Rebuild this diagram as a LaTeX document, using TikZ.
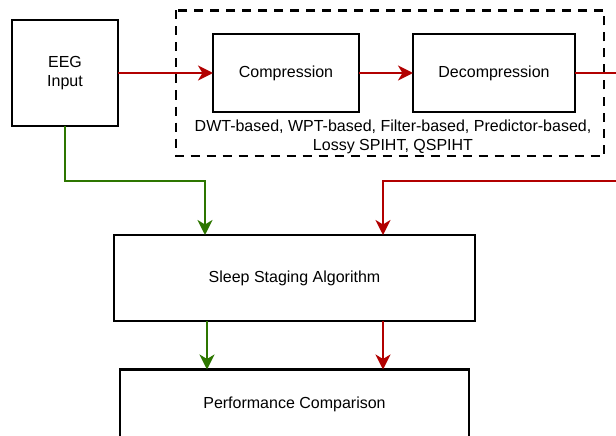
\documentclass[tikz,border=0pt]{standalone}
\usepackage{fontspec}
\setmainfont{Liberation Sans}
\usetikzlibrary{arrows.meta}
\definecolor{dred}{HTML}{B20000}
\definecolor{dgreen}{HTML}{2D7600}
\tikzset{
  blk/.style={draw=black, line width=2.4pt, fill=white, inner sep=0pt, outer sep=0pt, align=center,
    font=\fontsize{16}{19}\selectfont},
  conn/.style={line width=2.4pt, -{Stealth[length=15pt, width=15pt, inset=4.5pt]}},
  redc/.style={conn, draw=dred, color=dred},
  greenc/.style={conn, draw=dgreen, color=dgreen},
  dashbox/.style={draw=black, line width=2.4pt, dash pattern=on 9pt off 7pt},
}
\begin{document}
\begin{tikzpicture}[x=1pt, y=-1pt]
\useasboundingbox (0,0) rectangle (616,436);
\clip (0,0) rectangle (616,436);
% dashed group
\draw[dashbox] (176,10.5) rectangle (604,156);
\node[blk, minimum width=106pt, minimum height=106pt] (eeg) at (65,73) {EEG\\Input};
\node[blk, minimum width=146pt, minimum height=78pt] (comp) at (286,73) {Compression};
\node[blk, minimum width=162pt, minimum height=78pt] (dec) at (494,73) {Decompression};
\node[align=center, font=\fontsize{16}{19}\selectfont, inner sep=0pt] (cap) at (393,137)
  {DWT-based, WPT-based, Filter-based, Predictor-based,\\Lossy SPIHT, QSPIHT};
\node[blk, minimum width=361pt, minimum height=86pt] (sleep) at (294.5,278) {Sleep Staging Algorithm};
\node[blk, minimum width=349pt, minimum height=70pt] (perf) at (294.5,404.5) {Performance Comparison};
\coordinate (r1) at (630,73);
\coordinate (r2) at (630,181);
\coordinate (r3) at (383,181);
\coordinate (g1) at (65,181);
\coordinate (g2) at (205,181);
\coordinate (g3) at (207,300);
% connectors
\draw[redc] (eeg.east) -- (comp.west);
\draw[redc] (comp.east) -- (dec.west);
\draw[redc] (dec.east) -- (r1) -- (r2) -- (r3) -- (sleep.north -| r3);
\draw[greenc] (eeg.south) -- (g1) -- (g2) -- (sleep.north -| g2);
\draw[greenc] (sleep.south -| g3) -- (perf.north -| g3);
\draw[redc] (sleep.south -| r3) -- (perf.north -| r3);
\end{tikzpicture}
\end{document}
